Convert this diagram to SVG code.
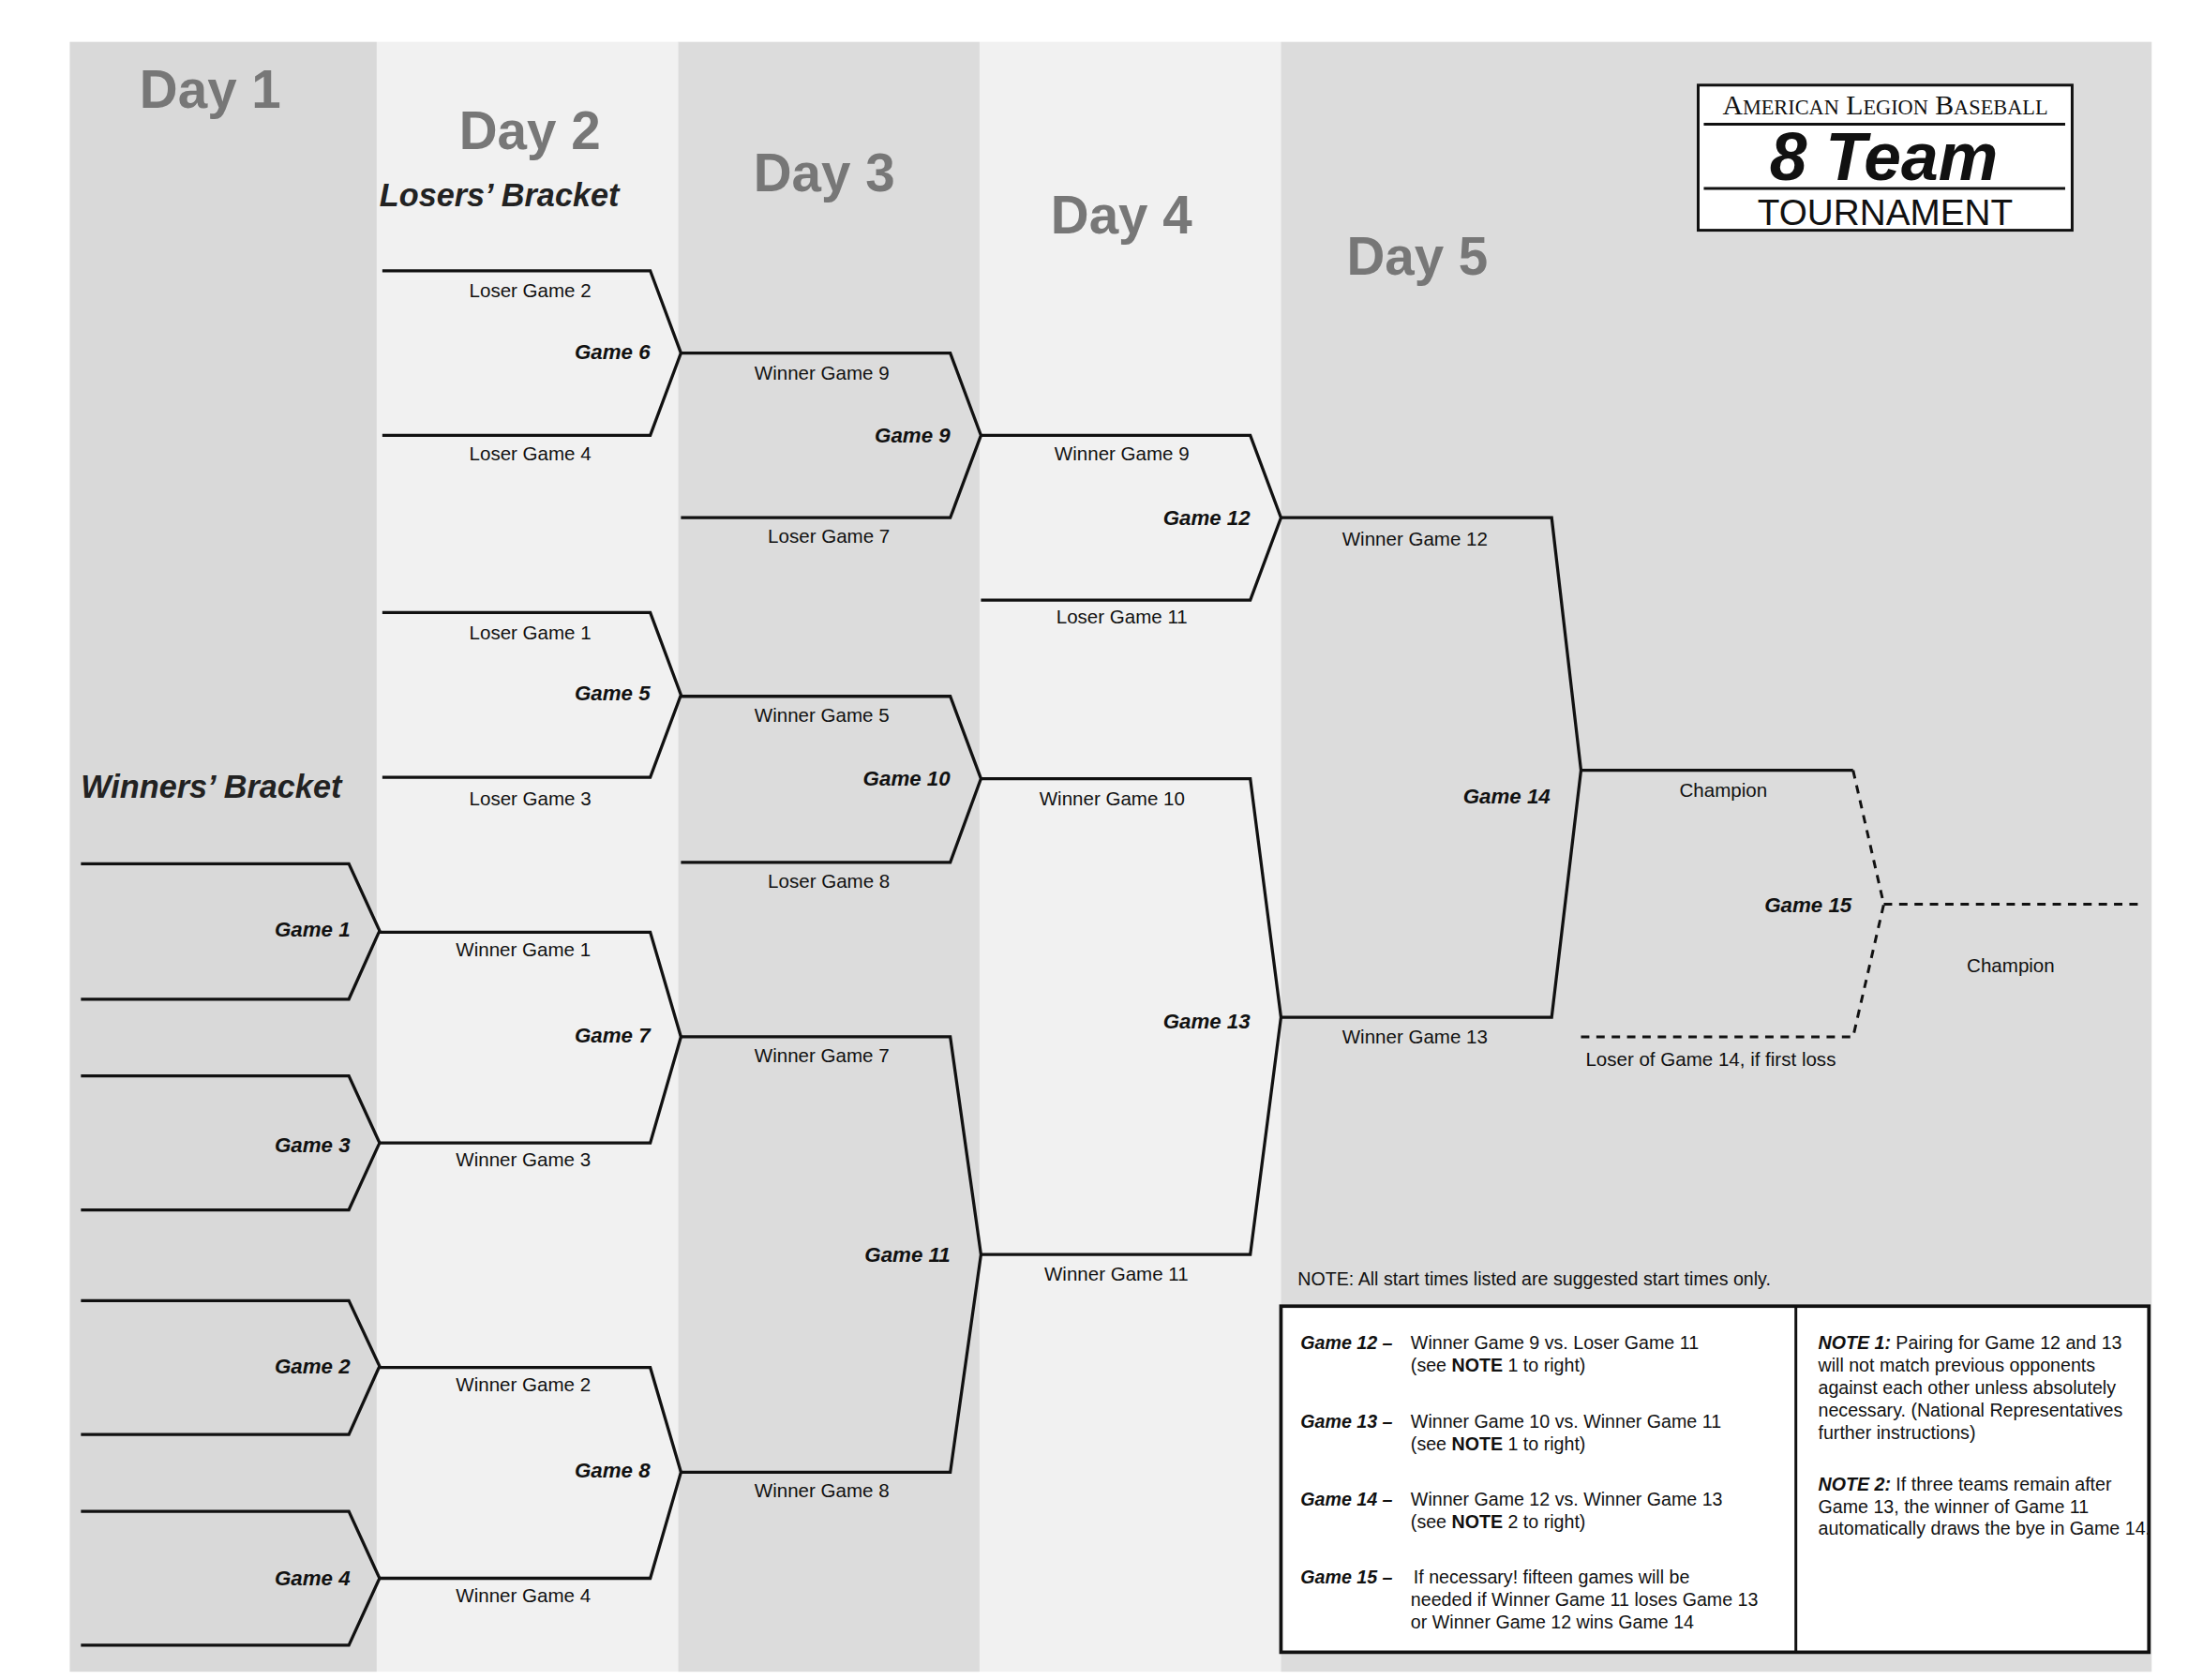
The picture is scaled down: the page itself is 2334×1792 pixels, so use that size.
<svg xmlns="http://www.w3.org/2000/svg" width="2334" height="1792" viewBox="0 0 2334 1792">
<style>
.b{fill:none;stroke:#111;stroke-width:2.2;stroke-linejoin:miter}
.d{fill:none;stroke:#111;stroke-width:2;stroke-dasharray:6 5}
.l{font-family:"Liberation Sans",Arial,sans-serif;font-size:13.8px;fill:#111;text-anchor:middle}
.g{font-family:"Liberation Sans",Arial,sans-serif;font-size:15px;font-weight:bold;font-style:italic;fill:#111;text-anchor:end}
.day{font-family:"Liberation Sans",Arial,sans-serif;font-size:38px;font-weight:bold;fill:#777}
.br{font-family:"Liberation Sans",Arial,sans-serif;font-size:23px;font-weight:bold;font-style:italic;fill:#222}
.n{font-family:"Liberation Sans",Arial,sans-serif;font-size:13.2px;fill:#111}
.nb{font-weight:bold;font-style:italic}
</style>
<rect width="2334" height="1792" fill="#fff"/>
<g transform="scale(1.4885)">
<rect x="50" y="30" width="220" height="1168" fill="#d9d9d9"/>
<rect x="270" y="30" width="216" height="1168" fill="#f1f1f1"/>
<rect x="486" y="30" width="216" height="1168" fill="#dcdcdc"/>
<rect x="702" y="30" width="216" height="1168" fill="#f1f1f1"/>
<rect x="918" y="30" width="624" height="1168" fill="#dcdcdc"/>
<g id="headers">
<text class="day" x="100" y="77">Day 1</text>
<text class="day" x="329" y="107">Day 2</text>
<text class="day" x="540" y="137">Day 3</text>
<text class="day" x="753" y="167">Day 4</text>
<text class="day" x="965" y="197">Day 5</text>
<text class="br" x="272" y="148">Losers’ Bracket</text>
<text class="br" x="58" y="572">Winners’ Bracket</text>
</g>
<g id="logo">
<rect x="1217" y="61" width="268" height="104" fill="#fff" stroke="#111" stroke-width="2"/>
<text x="1351" y="82" font-family="Liberation Serif,serif" font-size="20" text-anchor="middle" fill="#111">A<tspan font-size="15">MERICAN</tspan> L<tspan font-size="15">EGION</tspan> B<tspan font-size="15">ASEBALL</tspan></text>
<line x1="1221" y1="89" x2="1480" y2="89" stroke="#111" stroke-width="2"/>
<text x="1350" y="129" font-family="Liberation Sans,sans-serif" font-size="48" font-weight="bold" font-style="italic" text-anchor="middle" fill="#111">8 Team</text>
<line x1="1221" y1="135" x2="1480" y2="135" stroke="#111" stroke-width="2"/>
<text x="1351" y="161" font-family="Liberation Sans,sans-serif" font-size="26" text-anchor="middle" fill="#111">TOURNAMENT</text>
</g>
<g id="connectors">
<path class="b" d="M58 619H250L272 667L250 716H58"/>
<path class="b" d="M58 771H250L272 819L250 867H58"/>
<path class="b" d="M58 932H250L272 979L250 1028H58"/>
<path class="b" d="M58 1083H250L272 1131L250 1179H58"/>
<path class="b" d="M274 194H466L488 253L466 312H274"/>
<path class="b" d="M274 439H466L488 498L466 557H274"/>
<path class="b" d="M272 668H466L488 743L466 819H272"/>
<path class="b" d="M272 980H466L488 1055L466 1131H272"/>
<path class="b" d="M488 253H681L703 312L681 371H488"/>
<path class="b" d="M488 499H681L703 558L681 618H488"/>
<path class="b" d="M488 743H681L703 899L681 1055H488"/>
<path class="b" d="M703 312H896L918 371L896 430H703"/>
<path class="b" d="M703 558H896L918 729L896 899H703"/>
<path class="b" d="M918 371H1112L1133 552L1112 729H918"/>
<path class="b" d="M1133 552H1328"/>
<path class="d" d="M1328 552L1350 648L1328 743H1133"/>
<path class="d" d="M1350 648H1535"/>
</g>
<g id="labels">
<text class="l" x="380" y="213">Loser Game 2</text><text class="g" x="466" y="257">Game 6</text><text class="l" x="380" y="330">Loser Game 4</text>
<text class="l" x="380" y="458">Loser Game 1</text><text class="g" x="466" y="502">Game 5</text><text class="l" x="380" y="577">Loser Game 3</text>
<text class="l" x="375" y="685">Winner Game 1</text><text class="g" x="466" y="747">Game 7</text><text class="l" x="375" y="836">Winner Game 3</text>
<text class="l" x="375" y="997">Winner Game 2</text><text class="g" x="466" y="1059">Game 8</text><text class="l" x="375" y="1148">Winner Game 4</text>
<text class="g" x="251" y="671">Game 1</text><text class="g" x="251" y="826">Game 3</text><text class="g" x="251" y="984">Game 2</text><text class="g" x="251" y="1136">Game 4</text>
<text class="l" x="589" y="272">Winner Game 9</text><text class="g" x="681" y="317">Game 9</text><text class="l" x="594" y="389">Loser Game 7</text>
<text class="l" x="589" y="517">Winner Game 5</text><text class="g" x="681" y="563">Game 10</text><text class="l" x="594" y="636">Loser Game 8</text>
<text class="l" x="589" y="761">Winner Game 7</text><text class="g" x="681" y="904">Game 11</text><text class="l" x="589" y="1073">Winner Game 8</text>
<text class="l" x="804" y="330">Winner Game 9</text><text class="g" x="896" y="376">Game 12</text><text class="l" x="804" y="447">Loser Game 11</text>
<text class="l" x="797" y="577">Winner Game 10</text><text class="g" x="896" y="737">Game 13</text><text class="l" x="800" y="918">Winner Game 11</text>
<text class="l" x="1014" y="391">Winner Game 12</text><text class="g" x="1111" y="576">Game 14</text><text class="l" x="1014" y="748">Winner Game 13</text>
<text class="l" x="1235" y="571">Champion</text><text class="g" x="1327" y="654">Game 15</text><text class="l" x="1441" y="697">Champion</text>
<text class="l" x="1226" y="764">Loser of Game 14, if first loss</text>
</g>
<g id="notes">
<text class="n" x="930" y="921" font-size="14.5">NOTE: All start times listed are suggested start times only.</text>
<rect x="918" y="936" width="622" height="248" fill="#fff" stroke="#111" stroke-width="2.5"/>
<line x1="1287" y1="936" x2="1287" y2="1184" stroke="#111" stroke-width="2"/>
<text class="n" x="932" y="967"><tspan class="nb">Game 12 –</tspan> <tspan x="1011">Winner Game 9 vs. Loser Game 11</tspan><tspan x="1011" dy="16">(see <tspan font-weight="bold">NOTE</tspan> 1 to right)</tspan></text>
<text class="n" x="932" y="1023"><tspan class="nb">Game 13 –</tspan> <tspan x="1011">Winner Game 10 vs. Winner Game 11</tspan><tspan x="1011" dy="16">(see <tspan font-weight="bold">NOTE</tspan> 1 to right)</tspan></text>
<text class="n" x="932" y="1079"><tspan class="nb">Game 14 –</tspan> <tspan x="1011">Winner Game 12 vs. Winner Game 13</tspan><tspan x="1011" dy="16">(see <tspan font-weight="bold">NOTE</tspan> 2 to right)</tspan></text>
<text class="n" x="932" y="1135"><tspan class="nb">Game 15 –</tspan> <tspan x="1013">If necessary! fifteen games will be</tspan><tspan x="1011" dy="16">needed if Winner Game 11 loses Game 13</tspan><tspan x="1011" dy="16">or Winner Game 12 wins Game 14</tspan></text>
<text class="n" x="1303" y="967"><tspan class="nb">NOTE 1:</tspan> Pairing for Game 12 and 13<tspan x="1303" dy="16">will not match previous opponents</tspan><tspan x="1303" dy="16">against each other unless absolutely</tspan><tspan x="1303" dy="16">necessary. (National Representatives</tspan><tspan x="1303" dy="16">further instructions)</tspan></text>
<text class="n" x="1303" y="1068"><tspan class="nb">NOTE 2:</tspan> If three teams remain after<tspan x="1303" dy="16">Game 13, the winner of Game 11</tspan><tspan x="1303" dy="16">automatically draws the bye in Game 14.</tspan></text>
</g>
</g>
</svg>
